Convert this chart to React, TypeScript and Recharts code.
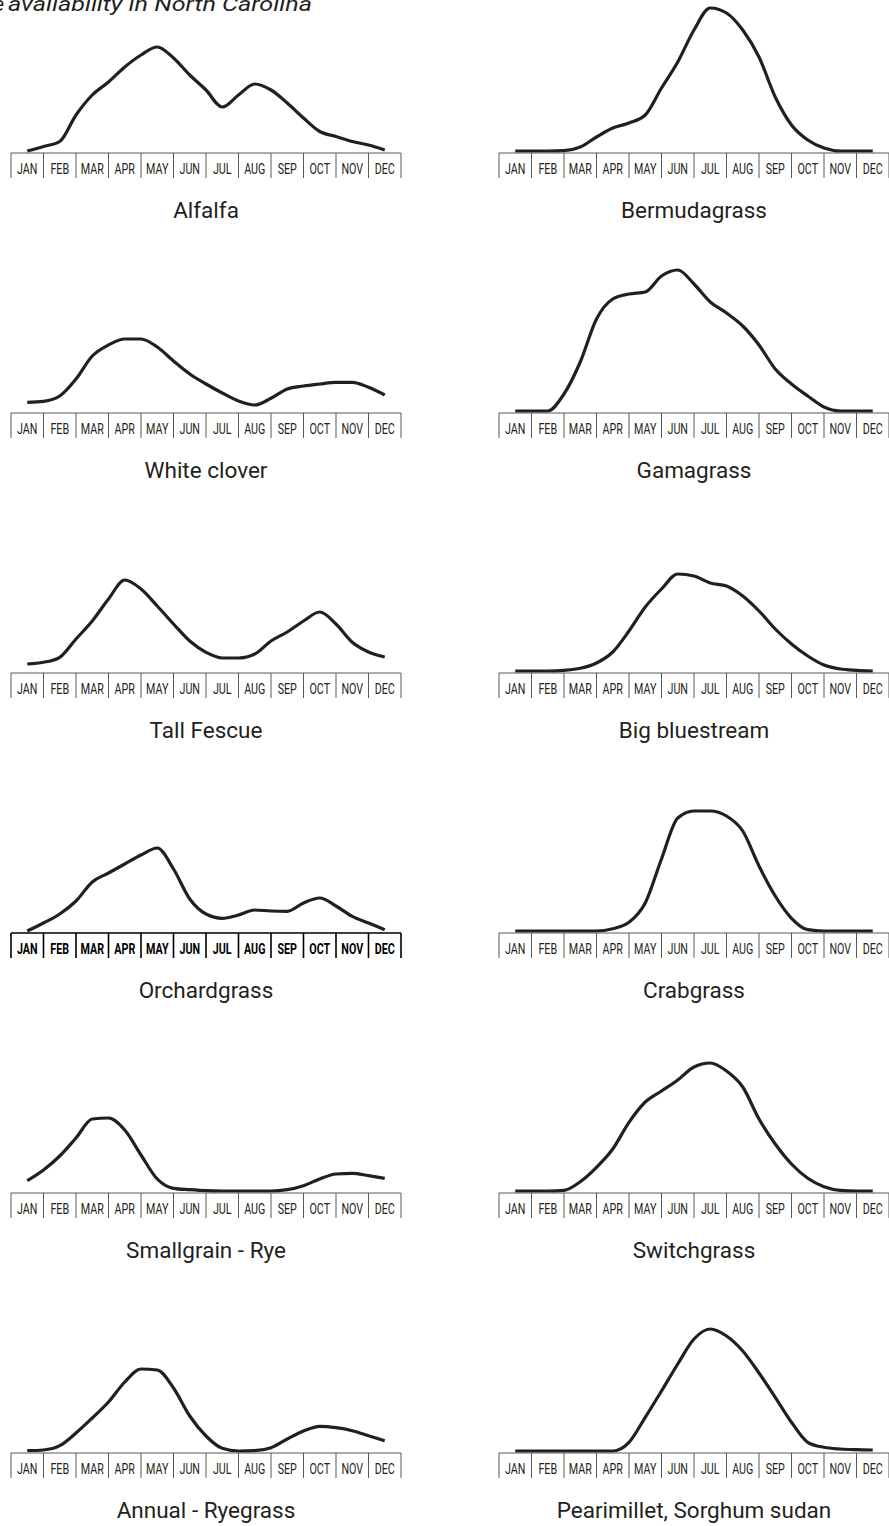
import { LineChart, Line, XAxis, YAxis } from "recharts";

const MONTHS = ["JAN", "FEB", "MAR", "APR", "MAY", "JUN", "JUL", "AUG", "SEP", "OCT", "NOV", "DEC"];

// half-month sample positions (0 = JAN centre, 11 = DEC centre)
const X_STEPS = [0, 0.5, 1, 1.5, 2, 2.5, 3, 3.5, 4, 4.5, 5, 5.5, 6, 6.5, 7, 7.5, 8, 8.5, 9, 9.5, 10, 10.5, 11];
// cell borders of the month strip
const CELL_EDGES = [-0.5, 0.5, 1.5, 2.5, 3.5, 4.5, 5.5, 6.5, 7.5, 8.5, 9.5, 10.5, 11.5];

// relative forage availability
const ALFALFA = [0, 4.5, 9.5, 36, 56, 69, 84, 96, 104, 93, 76, 61, 44, 56, 67, 61, 48, 33, 19.5, 14.5, 9.5, 6, 1];
const BERMUDAGRASS = [0, 0, 0, 0.3, 4, 14, 23, 28, 36, 63, 89, 121, 143, 138, 121, 94, 54, 26, 11, 3, 0, 0, 0];
const WHITE_CLOVER = [8.7, 9.7, 15, 32, 55, 66, 72, 72, 64, 50, 37, 27, 18, 10, 6, 12.7, 22, 25, 27, 28.7, 28.7, 23.7, 16];
const GAMAGRASS = [0, 0, 0, 17, 49, 92, 112, 117, 119, 135, 141, 127, 109, 98, 85, 66, 42, 27, 15, 4, 0, 0, 0];
const TALL_FESCUE = [7, 8.7, 13.7, 32, 50, 72, 91, 82, 65, 47, 30, 18.7, 13, 13, 17, 30, 39, 50, 59, 47, 28.7, 19, 14];
const BIG_BLUESTREAM = [0, 0, 0, 0.7, 2.7, 8, 19, 40, 64, 82, 97, 95, 88, 85, 75, 60, 42, 27, 15, 6, 2, 0.7, 0];
const ORCHARDGRASS = [0, 8, 17, 30, 49, 58, 67, 76, 83, 62, 32, 17, 12.7, 16, 21, 20, 19.7, 28, 33, 25, 14.7, 8, 1.3];
const CRABGRASS = [0, 0, 0, 0, 0, 0, 2.3, 8.7, 28, 72, 113, 120, 120, 115, 100, 65, 35, 12.7, 1.3, 0, 0, 0, 0];
const SMALLGRAIN_RYE = [10.3, 21, 35, 53, 72, 73, 61, 36, 12, 2.7, 1.3, 0.3, 0, 0, 0, 0, 1.3, 5.3, 12, 17, 17.7, 15.3, 12.7];
const SWITCHGRASS = [0, 0, 0, 0.7, 9.3, 23.7, 42, 68.7, 89, 100, 111, 124, 128, 120, 104, 72, 47, 27, 12.7, 4.3, 0.7, 0, 0];
const ANNUAL_RYEGRASS = [0.3, 1, 5.3, 18, 33, 49, 69, 82, 81, 63, 35, 15, 2.7, 0, 0.3, 3.3, 12, 20, 24.7, 23.3, 20.3, 15.3, 10.3];
const PEARLMILLET = [0, 0, 0, 0, 0, 0, 0, 8.7, 33.7, 60, 87, 112, 122, 115, 100, 78, 53.7, 28.7, 8.7, 3.7, 2, 1.3, 1];

const PANELS = [
  { name: "Alfalfa", values: ALFALFA },
  { name: "Bermudagrass", values: BERMUDAGRASS },
  { name: "White clover", values: WHITE_CLOVER },
  { name: "Gamagrass", values: GAMAGRASS },
  { name: "Tall Fescue", values: TALL_FESCUE },
  { name: "Big bluestream", values: BIG_BLUESTREAM },
  { name: "Orchardgrass", values: ORCHARDGRASS, bold: true },
  { name: "Crabgrass", values: CRABGRASS },
  { name: "Smallgrain - Rye", values: SMALLGRAIN_RYE },
  { name: "Switchgrass", values: SWITCHGRASS },
  { name: "Annual - Ryegrass", values: ANNUAL_RYEGRASS },
  { name: "Pearimillet, Sorghum sudan", values: PEARLMILLET },
];

const PLOT_W = 390;
const STRIP_H = 25;
const CHART_H = 177;
const COL_X = [11, 499];
const FIRST_AXIS_Y = 153;
const ROW_GAP = 260;
const INK = "#231f20";

const MonthTick = (props: any) => {
  const { x, y, payload, bold } = props;
  const idx = Math.round(payload.value + 0.5);
  if (idx >= 12) return <g />;
  const cellW = PLOT_W / 12;
  return (
    <text
      transform={`translate(${x + cellW / 2}, ${y - 4}) scale(0.74, 1)`}
      textAnchor="middle"
      fontFamily="Roboto, sans-serif"
      fontSize={14.5}
      fontWeight={bold ? 700 : 400}
      fill={bold ? "#000" : INK}
    >
      {MONTHS[idx]}
    </text>
  );
};

const Panel = ({ name, values, bold, left, axisY }: any) => {
  const rows = X_STEPS.map((x, i) => ({ x, v: values[i] }));
  const axisStroke = bold ? "#000" : "#58595b";
  const axisWidth = bold ? 1.6 : 1;
  return (
    <>
      <div style={{ position: "absolute", left: left - 1, top: axisY - (CHART_H - STRIP_H) }}>
        <LineChart width={PLOT_W + 2} height={CHART_H} data={rows} margin={{ top: 0, right: 1, bottom: 0, left: 1 }}>
          <XAxis
            type="number"
            dataKey="x"
            domain={[-0.5, 11.5]}
            ticks={CELL_EDGES}
            interval={0}
            height={STRIP_H}
            tickSize={STRIP_H}
            tickMargin={0}
            axisLine={{ stroke: axisStroke, strokeWidth: axisWidth }}
            tickLine={{ stroke: axisStroke, strokeWidth: axisWidth }}
            tick={(p: any) => <MonthTick {...p} bold={bold} />}
          />
          <YAxis hide domain={[-2, 150]} />
          <Line
            type="monotone"
            dataKey="v"
            stroke={INK}
            strokeWidth={3.2}
            dot={false}
            isAnimationActive={false}
          />
        </LineChart>
      </div>
      <div
        style={{
          position: "absolute",
          left,
          width: PLOT_W,
          top: axisY + 45,
          textAlign: "center",
          fontFamily: "Roboto, sans-serif",
          fontSize: 22.5,
          lineHeight: "24px",
          color: INK,
        }}
      >
        {name}
      </div>
    </>
  );
};

export default function App() {
  return (
    <div style={{ position: "relative", width: 889, height: 1526, overflow: "hidden", background: "#fff" }}>
      <style>{`body{margin:0}`}</style>
      <svg width={889} height={20} style={{ position: "absolute", left: 0, top: 0 }}>
        <text x={4} y={11} textAnchor="end" fontFamily="Roboto, sans-serif" fontStyle="italic" fontSize={20} fill={INK}>
          Forage
        </text>
        <text
          x={8}
          y={11}
          textLength={304}
          lengthAdjust="spacingAndGlyphs"
          fontFamily="Roboto, sans-serif"
          fontStyle="italic"
          fontSize={20}
          fill={INK}
        >
          availability in North Carolina
        </text>
      </svg>
      {PANELS.map((p, i) => (
        <Panel
          key={p.name}
          name={p.name}
          values={p.values}
          bold={p.bold}
          left={COL_X[i % 2]}
          axisY={FIRST_AXIS_Y + ROW_GAP * Math.floor(i / 2)}
        />
      ))}
    </div>
  );
}
